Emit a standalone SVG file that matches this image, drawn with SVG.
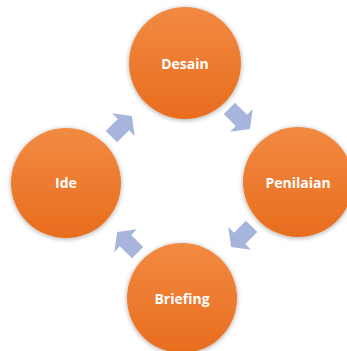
<svg xmlns="http://www.w3.org/2000/svg" xmlns:xlink="http://www.w3.org/1999/xlink" width="347" height="351" viewBox="0 0 347 351">
<defs>
<linearGradient id="og" x1="0" y1="0" x2="0" y2="1">
<stop offset="0" stop-color="#F28A42"/>
<stop offset="1" stop-color="#E86D1E"/>
</linearGradient>
<filter id="sh" x="-20%" y="-20%" width="140%" height="140%">
<feGaussianBlur in="SourceAlpha" stdDeviation="2.5"/>
<feOffset dx="0" dy="1" result="b"/>
<feComponentTransfer><feFuncA type="linear" slope="0.35"/></feComponentTransfer>
<feMerge><feMergeNode/><feMergeNode in="SourceGraphic"/></feMerge>
</filter>
<path id="arr" d="M-15,-8 L2,-8 L2,-16 L14,0 L2,16 L2,8 L-15,8 Z"/>
</defs>
<style>
.c{fill:url(#og);filter:url(#sh)}
.t{font-family:"Open Sans","Noto Sans",sans-serif;font-weight:bold;font-size:14px;fill:#FFFFFF;text-anchor:middle;dominant-baseline:central}
.a{fill:#A7B5DD}
</style>
<rect width="347" height="351" fill="#FFFFFF"/>
<g id="connectors">
<use xlink:href="#arr" class="a" transform="translate(122,126) rotate(-45)"/>
<use xlink:href="#arr" class="a" transform="translate(240,119) rotate(45)"/>
<use xlink:href="#arr" class="a" transform="translate(241,237) rotate(135)"/>
<use xlink:href="#arr" class="a" transform="translate(127,242) rotate(-135)"/>
</g>
<g id="desain"><circle class="c" cx="185" cy="63" r="56"/><text class="t" x="185" y="63">Desain</text></g>
<g id="penilaian"><circle class="c" cx="298" cy="182" r="55"/><text class="t" x="298" y="182">Penilaian</text></g>
<g id="briefing"><circle class="c" cx="182" cy="298" r="55"/><text class="t" x="182" y="298">Briefing</text></g>
<g id="ide"><circle class="c" cx="66" cy="183" r="55"/><text class="t" x="66" y="182">Ide</text></g>
</svg>
